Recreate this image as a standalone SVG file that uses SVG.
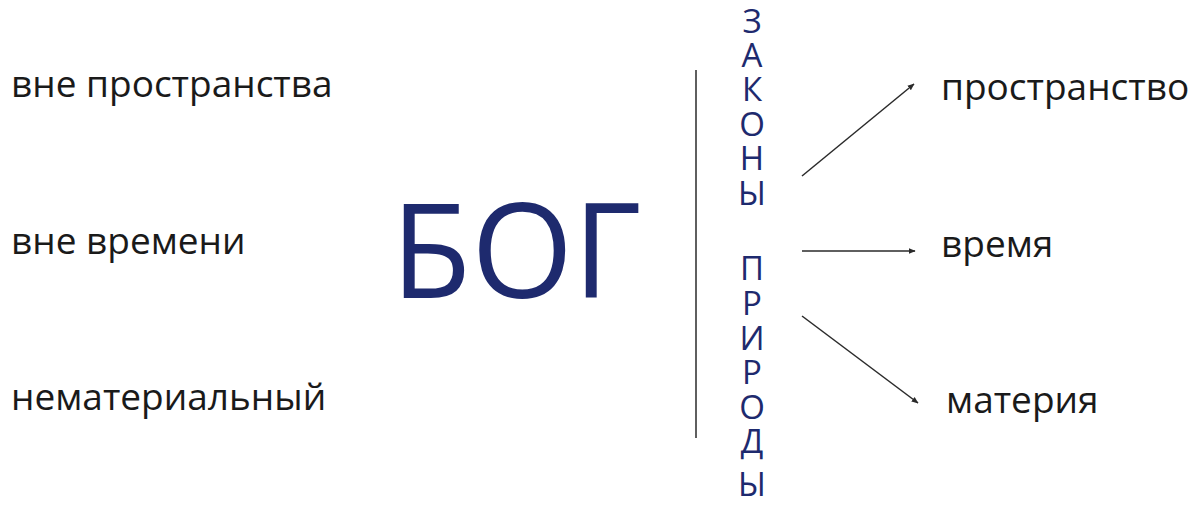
<svg xmlns="http://www.w3.org/2000/svg" width="1199" height="505" viewBox="0 0 1199 505">
<style>
.t{font-family:"Open Sans","Noto Sans",sans-serif;font-size:37px;fill:#1a1a1a}
.v{font-family:"Open Sans","Noto Sans",sans-serif;font-size:33px;fill:#1e2a6e;text-anchor:middle}
.big{font-family:"Open Sans","Noto Sans",sans-serif;font-size:131px;fill:#1e2a6e}
.c{stroke:#2a2a2a;stroke-width:1.5;fill:none}
</style>
<defs>
<marker id="ah" viewBox="0 0 10 10" refX="9" refY="5" markerWidth="7" markerHeight="7" orient="auto" markerUnits="userSpaceOnUse">
<path d="M0,1 L10,5 L0,9 Z" fill="#2a2a2a"/>
</marker>
</defs>
<rect width="1199" height="505" fill="#fff"/>
<g id="left1"><text class="t" x="11" y="97">вне пространства</text></g>
<g id="left2"><text class="t" x="11" y="254">вне времени</text></g>
<g id="left3"><text class="t" x="11" y="410">нематериальный</text></g>
<g id="god"><text class="big" x="391" y="298">БОГ</text></g>
<g id="divider"><line class="c" x1="696" y1="70" x2="696" y2="438"/></g>
<g id="laws">
<text class="v"><tspan x="752" y="33">З</tspan><tspan x="752" y="67">А</tspan><tspan x="752" y="101">К</tspan><tspan x="752" y="136">О</tspan><tspan x="752" y="170">Н</tspan><tspan x="752" y="205">Ы</tspan></text>
<text class="v"><tspan x="752" y="280">П</tspan><tspan x="752" y="315">Р</tspan><tspan x="752" y="350">И</tspan><tspan x="752" y="384">Р</tspan><tspan x="752" y="419">О</tspan><tspan x="752" y="453">Д</tspan><tspan x="752" y="496">Ы</tspan></text>
</g>
<g id="connectors">
<line class="c" x1="802" y1="176" x2="914" y2="84" marker-end="url(#ah)"/>
<line class="c" x1="802" y1="251" x2="915" y2="251" marker-end="url(#ah)"/>
<line class="c" x1="802" y1="316" x2="918" y2="403" marker-end="url(#ah)"/>
</g>
<g id="right1"><text class="t" x="941" y="100">пространство</text></g>
<g id="right2"><text class="t" x="941" y="257">время</text></g>
<g id="right3"><text class="t" x="946" y="413">материя</text></g>
</svg>
